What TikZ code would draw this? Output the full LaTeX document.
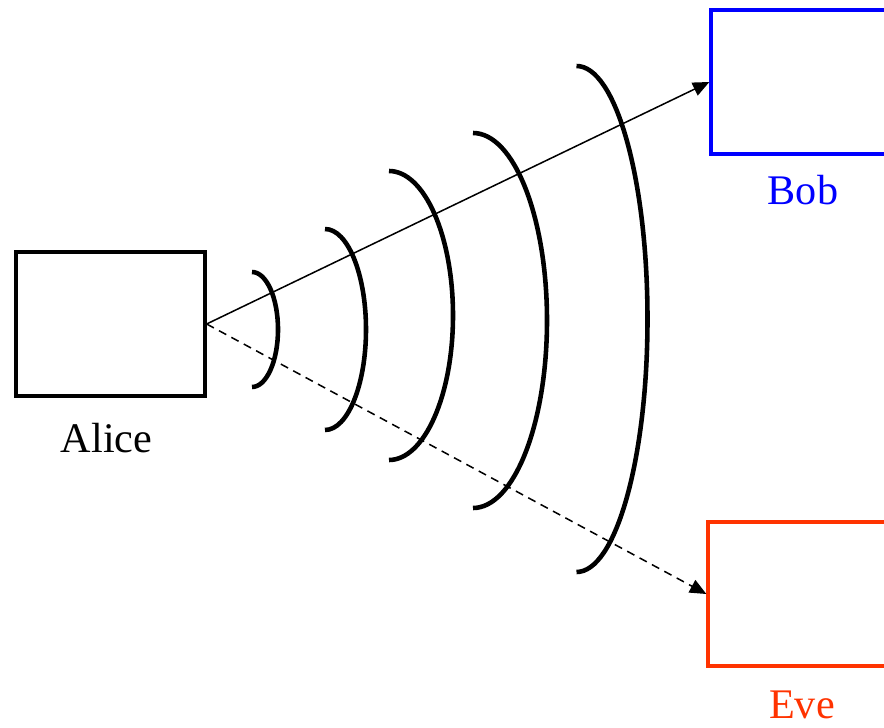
\documentclass[tikz,border=0pt]{standalone}
\usepackage{fontspec}
\setmainfont{Liberation Serif}
\usetikzlibrary{arrows.meta}
\definecolor{bobblue}{RGB}{0,0,255}
\definecolor{evered}{RGB}{255,51,0}

\begin{document}
\begin{tikzpicture}[x=0.03cm,y=-0.03cm,
  party/.style={draw,line width=2.8pt,minimum width=5.67cm,minimum height=4.32cm,inner sep=0pt},
  partylabel/.style={font=\fontsize{36}{40}\selectfont,inner sep=1pt},
  wave/.style={line width=3.9pt},
  msg/.style={line width=1.3pt,-{Triangle[length=14pt,width=12pt]}}]
\useasboundingbox (0,0) rectangle (884,728);
\clip (0,0) rectangle (884,728);
% the three parties
\node[party] (alice) at (110.5,324) {};
\node[party,bobblue] (bob) at (805.5,82) {};
\node[party,evered] (eve) at (802.5,594) {};
\node[partylabel] (alicename) at (106.5,438) {Alice};
\node[partylabel,bobblue] (bobname) at (803,190) {Bob};
\node[partylabel,evered] (evename) at (802,705) {Eve};
% the wave fronts
\draw[wave]
(252,272) arc[start angle=-90,end angle=90,x radius=26,y radius=57.5]
(325,229) arc[start angle=-90,end angle=90,x radius=41,y radius=100.5]
(389,171) arc[start angle=-90,end angle=90,x radius=64,y radius=144.5]
(473,133) arc[start angle=-90,end angle=90,x radius=74,y radius=187.5]
(576.5,66) arc[start angle=-90,end angle=90,x radius=71,y radius=253];
% messages
\draw[msg] (alice.east) -- (bob.west);
\draw[msg,dash pattern=on 7pt off 5pt] (alice.east) -- (eve.west);
\end{tikzpicture}
\end{document}
